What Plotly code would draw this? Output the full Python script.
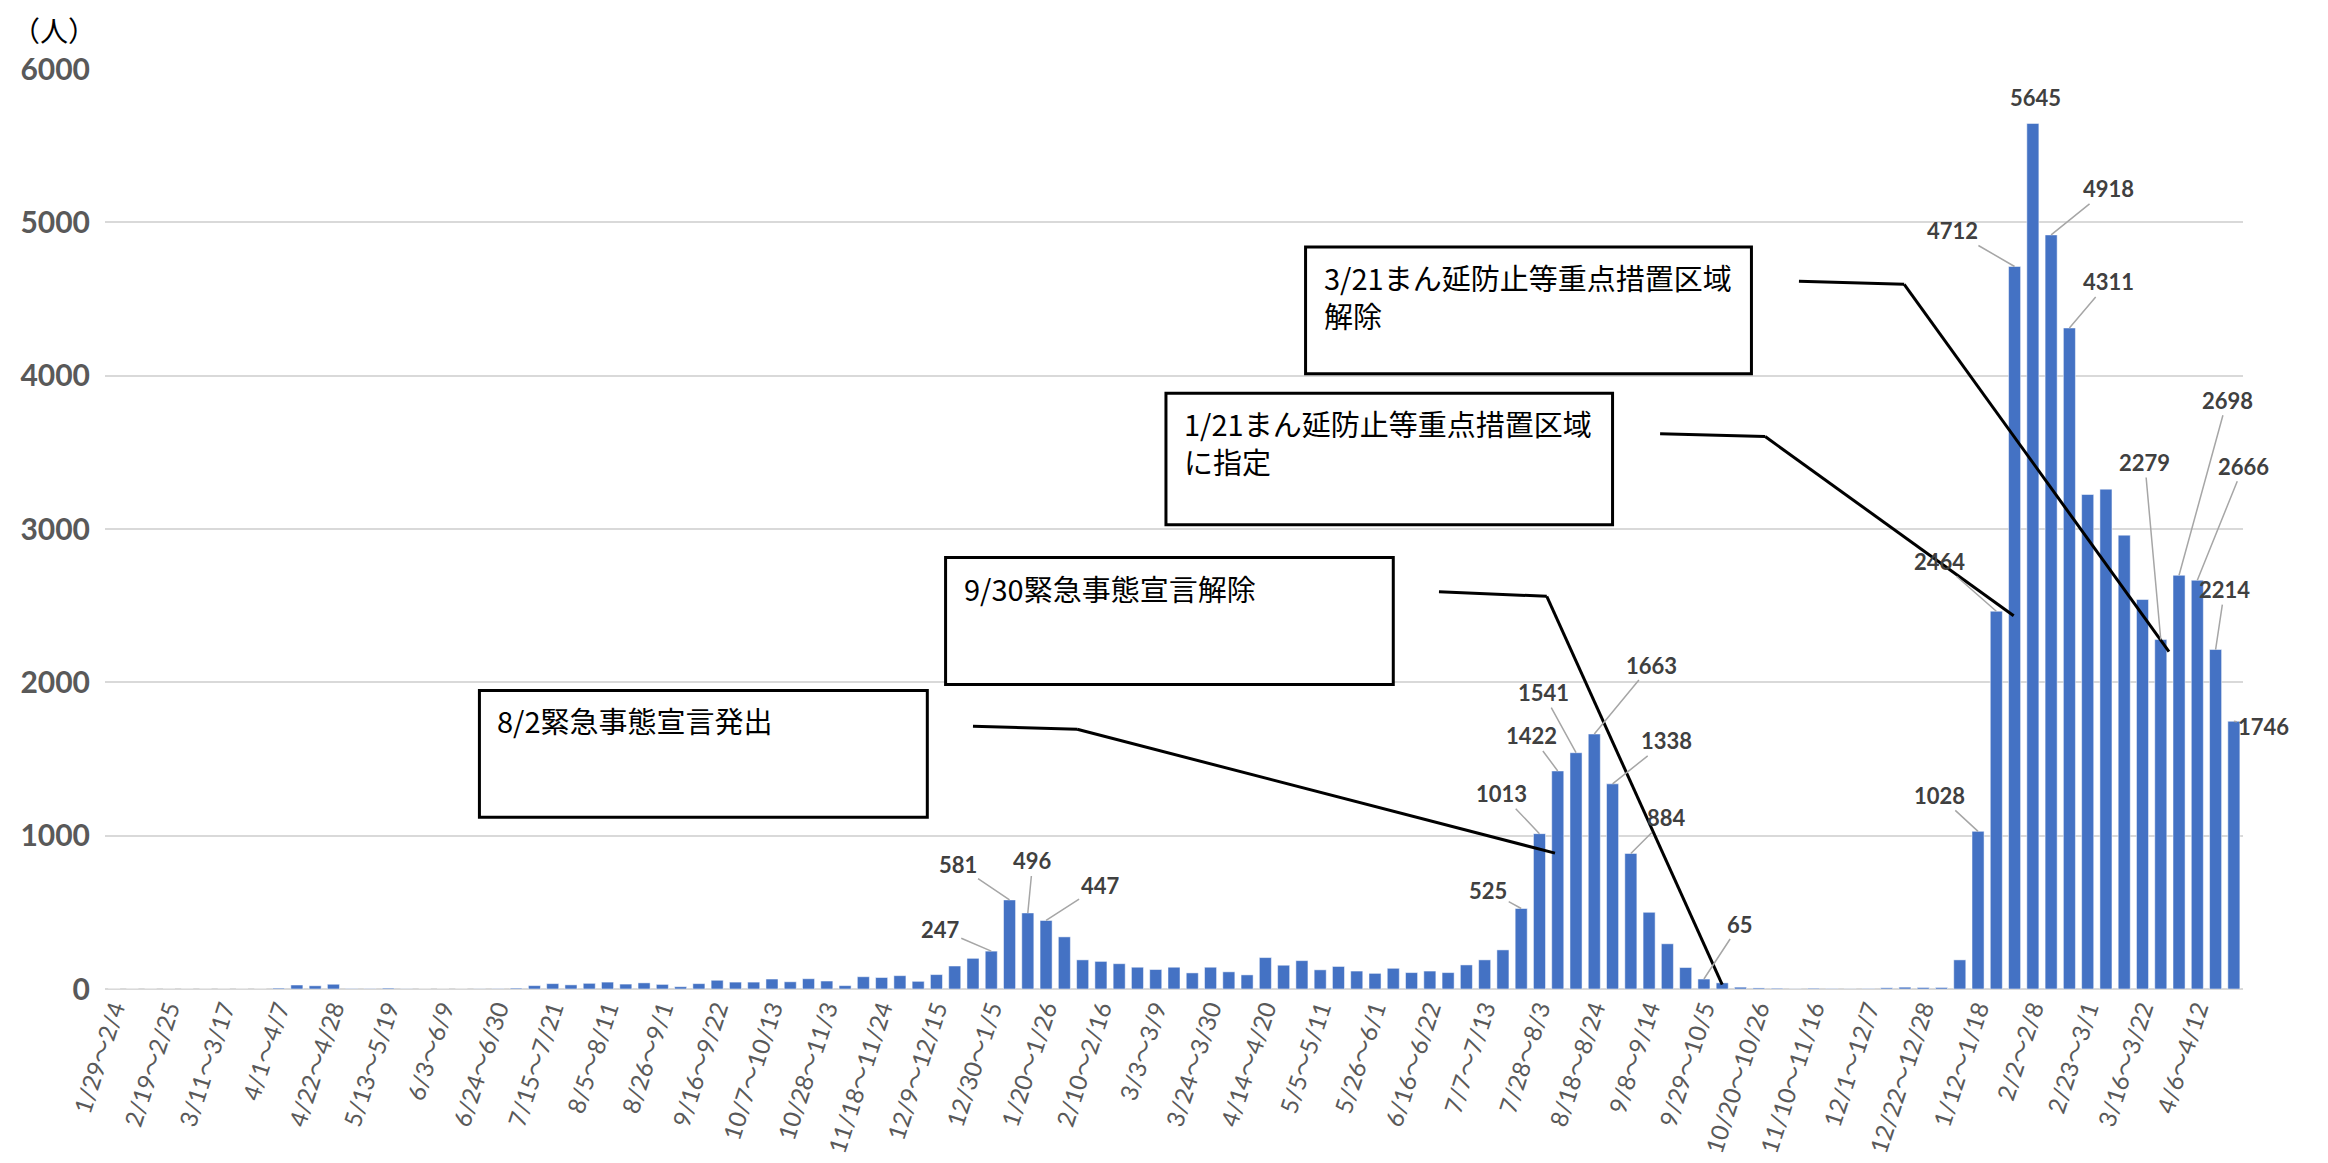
import plotly.graph_objects as go

# ---------------- data ----------------
weeks = [
    "1/29～2/4", "2/5～2/11", "2/12～2/18", "2/19～2/25", "2/26～3/3", "3/4～3/10",
    "3/11～3/17", "3/18～3/24", "3/25～3/31", "4/1～4/7", "4/8～4/14", "4/15～4/21",
    "4/22～4/28", "4/29～5/5", "5/6～5/12", "5/13～5/19", "5/20～5/26", "5/27～6/2",
    "6/3～6/9", "6/10～6/16", "6/17～6/23", "6/24～6/30", "7/1～7/7", "7/8～7/14",
    "7/15～7/21", "7/22～7/28", "7/29～8/4", "8/5～8/11", "8/12～8/18", "8/19～8/25",
    "8/26～9/1", "9/2～9/8", "9/9～9/15", "9/16～9/22", "9/23～9/29", "9/30～10/6",
    "10/7～10/13", "10/14～10/20", "10/21～10/27", "10/28～11/3", "11/4～11/10", "11/11～11/17",
    "11/18～11/24", "11/25～12/1", "12/2～12/8", "12/9～12/15", "12/16～12/22", "12/23～12/29",
    "12/30～1/5", "1/6～1/12", "1/13～1/19", "1/20～1/26", "1/27～2/2", "2/3～2/9",
    "2/10～2/16", "2/17～2/23", "2/24～3/2", "3/3～3/9", "3/10～3/16", "3/17～3/23",
    "3/24～3/30", "3/31～4/6", "4/7～4/13", "4/14～4/20", "4/21～4/27", "4/28～5/4",
    "5/5～5/11", "5/12～5/18", "5/19～5/25", "5/26～6/1", "6/2～6/8", "6/9～6/15",
    "6/16～6/22", "6/23～6/29", "6/30～7/6", "7/7～7/13", "7/14～7/20", "7/21～7/27",
    "7/28～8/3", "8/4～8/10", "8/11～8/17", "8/18～8/24", "8/25～8/31", "9/1～9/7",
    "9/8～9/14", "9/15～9/21", "9/22～9/28", "9/29～10/5", "10/6～10/12", "10/13～10/19",
    "10/20～10/26", "10/27～11/2", "11/3～11/9", "11/10～11/16", "11/17～11/23", "11/24～11/30",
    "12/1～12/7", "12/8～12/14", "12/15～12/21", "12/22～12/28", "12/29～1/4", "1/5～1/11",
    "1/12～1/18", "1/19～1/25", "1/26～2/1", "2/2～2/8", "2/9～2/15", "2/16～2/22",
    "2/23～3/1", "3/2～3/8", "3/9～3/15", "3/16～3/22", "3/23～3/29", "3/30～4/5",
    "4/6～4/12", "4/13～4/19", "4/20～4/26",
]

cases = [
    0, 0, 0, 0, 0, 0, 0, 0, 0, 6, 26, 21,
    31, 3, 2, 6, 1, 0, 0, 0, 1, 2, 6, 22,
    35, 27, 37, 45, 32, 40, 30, 15, 35, 57, 45, 45,
    65, 47, 67, 52, 22, 80, 75, 87, 50, 94, 150, 200,
    247, 581, 496, 447, 340, 190, 180, 165, 142, 127, 142, 105,
    142, 112, 92, 205, 155, 185, 125, 147, 117, 102, 135, 107,
    117, 107, 157, 190, 255, 525, 1013, 1422, 1541, 1663, 1338, 884,
    500, 295, 140, 65, 40, 12, 7, 5, 1, 5, 3, 1,
    3, 8, 12, 10, 10, 190, 1028, 2464, 4712, 5645, 4918, 4311,
    3225, 3260, 2960, 2540, 2279, 2698, 2666, 2214, 1746,
]

tick_labels = weeks[::3]

# labelled bars: (week index, label dx px, label dy px, leader line?)
labelled = [
    (48, -51, -22, True), (49, -52, -35, True), (50, 5, -52, True), (51, 54, -35, True),
    (77, -33, -18, True), (78, -38, -40, True), (79, -26, -35, True), (80, -33, -60, True),
    (81, 57, -69, True), (82, 54, -43, True), (83, 36, -36, True), (87, 36, -55, True),
    (102, -39, -36, True), (103, -57, -50, True), (104, -62, -36, True), (105, 3, -26, False),
    (106, 57, -46, True), (107, 39, -46, True), (112, -16, -177, True), (113, 48, -175, True),
    (114, 46, -114, True), (115, 9, -60, True), (116, 30, 5, True),
]

# callout boxes: text lines, x0, x1 (category index), y top, y bottom, connector points
callouts = [
    (["8/2緊急事態宣言発出"], 19.99, 44.5, 1947, 1120,
     [(47.0, 1714), (52.7, 1694), (78.85, 886)]),
    (["9/30緊急事態宣言解除"], 45.5, 70.0, 2814, 1986,
     [(72.5, 2590), (78.4, 2561), (88.0, 29)]),
    (["1/21まん延防止等重点措置区域", "に指定"], 57.56, 82.0, 3885, 3028,
     [(84.6, 3622), (90.35, 3603), (103.95, 2434)]),
    (["3/21まん延防止等重点措置区域", "解除"], 65.2, 89.6, 4839, 4012,
     [(92.2, 4615), (97.96, 4596), (112.45, 2201)]),
]

# ---------------- figure ----------------
LAT = "Lato, 'Noto Sans CJK JP', sans-serif"
JP = "'Noto Sans CJK JP', sans-serif"

fig = go.Figure()
fig.add_trace(go.Bar(
    x=weeks, y=cases,
    marker=dict(color="#4472C4", line=dict(color="rgba(255,255,255,0.5)", width=1)),
    hoverinfo="x+y",
))

annotations = []
for idx, dx, dy, leader in labelled:
    annotations.append(dict(
        x=weeks[idx], y=cases[idx], xref="x", yref="y",
        text=f"<b>{cases[idx]}</b>",
        showarrow=True, arrowhead=0, arrowwidth=1.5,
        arrowcolor="#A6A6A6" if leader else "rgba(0,0,0,0)",
        ax=dx, ay=dy, standoff=0,
        font=dict(family=LAT, size=22, color="#404040"),
    ))

shapes = []
for lines, x0, x1, yt, yb, pts in callouts:
    shapes.append(dict(type="rect", xref="x", yref="y", x0=x0, x1=x1, y0=yb, y1=yt,
                       line=dict(color="black", width=3), fillcolor="white", layer="above"))
    for k, line_text in enumerate(lines):
        annotations.append(dict(
            x=x0, y=yt, xref="x", yref="y", xanchor="left", yanchor="top",
            text=line_text, showarrow=False, align="left",
            xshift=17, yshift=-8 - 38 * k, borderpad=0,
            font=dict(family=JP, size=29, color="black"),
        ))
    for (xa, ya), (xb, yb2) in zip(pts[:-1], pts[1:]):
        shapes.append(dict(type="line", xref="x", yref="y", x0=xa, y0=ya, x1=xb, y1=yb2,
                           line=dict(color="black", width=3), layer="above"))

annotations.append(dict(
    x=-0.024, y=1.042, xref="paper", yref="paper", text="（人）", showarrow=False,
    xanchor="center", yanchor="middle", font=dict(family=JP, size=28, color="black"),
))

fig.update_layout(
    width=2328, height=1163,
    margin=dict(l=97, r=93, t=61, b=182),
    plot_bgcolor="white", paper_bgcolor="white",
    bargap=0.34,
    showlegend=False,
    annotations=annotations,
    shapes=shapes,
    xaxis=dict(
        type="category", range=[-0.5, len(weeks) - 0.5],
        tickmode="array", tickvals=tick_labels, ticktext=tick_labels,
        tickangle=-72, showgrid=False, zeroline=False, showline=False, ticks="",
        tickfont=dict(family=LAT, size=24, color="#595959"),
    ),
    yaxis=dict(
        range=[0, 6000], tickvals=[0, 1000, 2000, 3000, 4000, 5000, 6000],
        showgrid=True, gridcolor="#D9D9D9", gridwidth=1.5,
        zeroline=True, zerolinecolor="#D9D9D9", zerolinewidth=1.5,
        showline=False, ticks="", ticklabelstandoff=14,
        tickfont=dict(family=LAT, size=30, color="#595959", weight="bold"),
    ),
)

fig.write_html("out.html")
